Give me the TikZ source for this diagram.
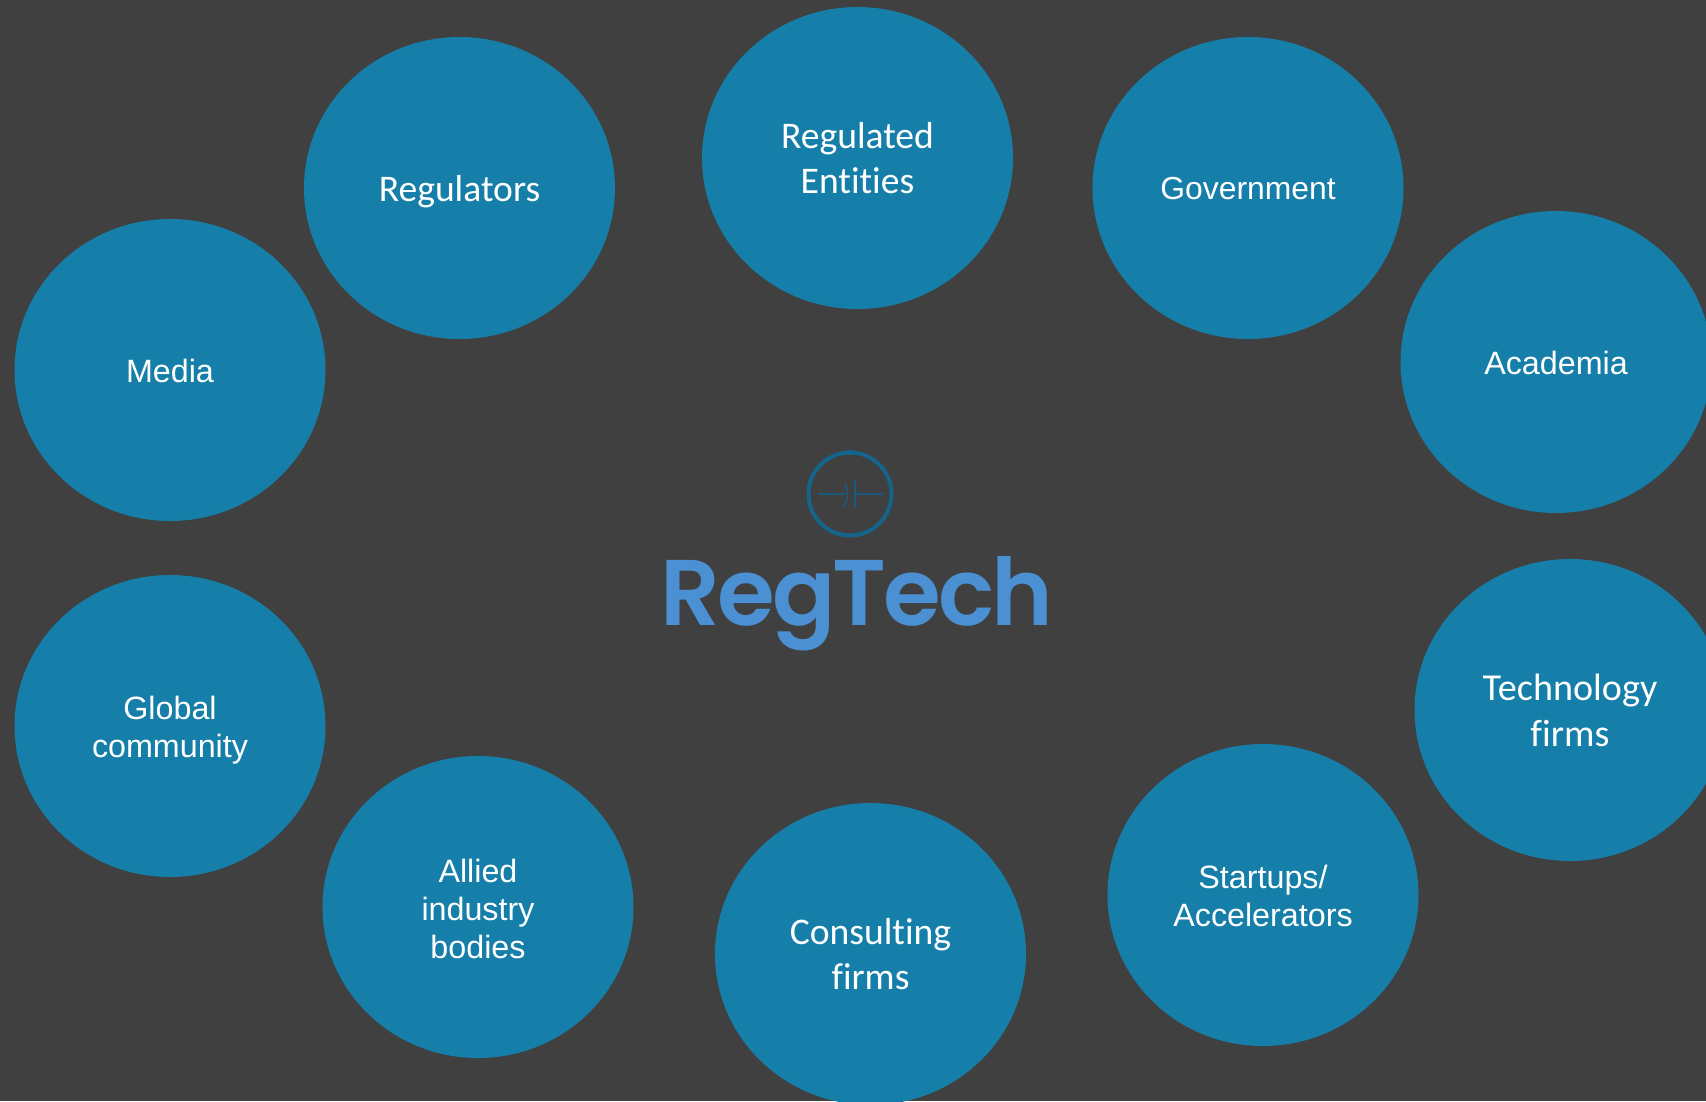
\documentclass[tikz,border=0pt]{standalone}
\usepackage{fontspec}
\setmainfont{Liberation Sans}
\newfontfamily\calfont[Ligatures=NoCommon]{Carlito}
\newfontfamily\logofont[UprightFont=* SemiBold,LetterSpace=-3.2]{Poppins}
\usetikzlibrary{shapes.geometric}
\definecolor{bgdark}{HTML}{404040}
\definecolor{bubble}{HTML}{157EA9}
\definecolor{logoblue}{HTML}{4A90D2}
\definecolor{logoring}{HTML}{14648C}
\definecolor{logoline}{HTML}{1A5A7C}
\tikzset{
  x=0.75pt,y=-0.75pt,
  bubblenode/.style={ellipse,fill=bubble,draw=none,minimum width=311*0.75pt,minimum height=302*0.75pt,inner sep=0pt},
  arialtext/.style={text=white,align=center,inner sep=0pt,font=\fontsize{24.2}{28.8}\selectfont},
  calibritext/.style={text=white,align=center,inner sep=0pt,font=\calfont\fontsize{28.2}{33.8}\selectfont},
  ringline/.style={draw=logoline,line width=1.1pt},
}
\begin{document}
\begin{tikzpicture}
\useasboundingbox (0,0) rectangle (1706,1101);
\clip (0,0) rectangle (1706,1101);
\fill[bgdark] (0,0) rectangle (1706,1101);
\node[bubblenode,label={[calibritext,yshift=-2.7pt]center:Regulators}] (regulators) at (459.5,188) {};
\node[bubblenode,label={[calibritext,yshift=-0.1pt]center:Regulated\\Entities}] (regulated) at (857.5,158) {};
\node[bubblenode,label={[arialtext,yshift=-0.7pt,font=\fontsize{23.9}{29}\selectfont]center:Government}] (government) at (1248,188) {};
\node[bubblenode,label={[arialtext,yshift=-0.7pt]center:Academia}] (academia) at (1556,362) {};
\node[bubblenode,label={[calibritext,yshift=-0.3pt,font=\calfont\fontsize{28.6}{33.8}\selectfont]center:Technology\\firms}] (technology) at (1570,710) {};
\node[bubblenode,label={[arialtext,yshift=-0.8pt]center:Startups/\\Accelerators}] (startups) at (1263,895) {};
\node[bubblenode,label={[calibritext,yshift=-0.3pt]center:Consulting\\firms}] (consulting) at (870.5,954) {};
\node[bubblenode,label={[arialtext,yshift=-1.5pt]center:Allied\\industry\\bodies}] (allied) at (478,907) {};
\node[bubblenode,label={[arialtext,yshift=-3.2pt]center:Global\\community}] (global) at (170,726) {};
\node[bubblenode,label={[arialtext,yshift=-0.7pt]center:Media}] (media) at (170,370) {};
\node[font=\logofont\fontsize{70}{70}\selectfont,text=logoblue,inner sep=0pt,anchor=base] (logotext) at (857,625) {RegTech};
\coordinate (ringc) at (850,494);
\draw[logoring,line width=3pt] (ringc) circle[radius=41.5];
\fill[logoring] (850,452.5) ellipse[x radius=6,y radius=2.5];
\draw[ringline] (818,494) -- (845,494);
\draw[ringline] (856,494) -- (883,494);
\draw[ringline] (845,483) .. controls (849,492) and (849,498) .. (843,508);
\draw[ringline] (855,480) -- (855,508);
\end{tikzpicture}
\end{document}
